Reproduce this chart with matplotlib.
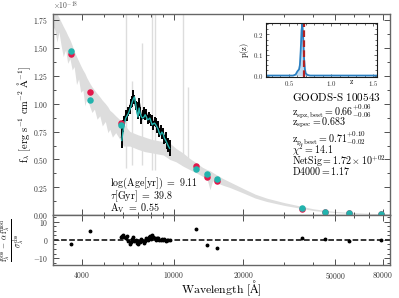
import numpy as np
import matplotlib
matplotlib.use('Agg')
import matplotlib.pyplot as plt
from matplotlib.ticker import FixedLocator, FuncFormatter, MultipleLocator, AutoMinorLocator, NullFormatter

plt.rcParams['mathtext.fontset'] = 'cm'
plt.rcParams['font.family'] = ['DejaVu Serif']

# photometry (flux in 1e-18 erg/s/cm2/A)
phot_wave = [3600, 4340, 5900, 12500, 13900, 15400, 35700, 45100, 57300, 78700]
phot_obs = [1.441, 1.101, 0.830, 0.444, 0.348, 0.310, 0.060, 0.031, 0.021, 0.015]
phot_mod = [1.470, 1.033, 0.810, 0.414, 0.372, 0.325, 0.063, 0.030, 0.021, 0.012]
phot_resid = [-2.5, 4.7, 1.5, 6.0, -2.9, -4.2, 1.0, 0.7, -0.4, 0.0]

# spectrum
spec_wave = [5950, 6030, 6110, 6190, 6270, 6350, 6430, 6510, 6590, 6670,
             6750, 6830, 6910, 6990, 7070, 7150, 7240, 7330, 7420, 7510,
             7600, 7690, 7780, 7870, 7960, 8050, 8150, 8250, 8350, 8450,
             8550, 8650, 8760, 8870, 8980, 9100, 9220, 9340, 9460, 9580]
spec_obs = [0.70, 0.80, 0.85, 0.90, 0.88, 0.93, 0.95, 1.00, 1.02, 1.07,
            1.04, 0.98, 0.97, 0.90, 1.01, 0.93, 0.86, 0.90, 0.93, 0.89,
            0.91, 0.86, 0.88, 0.87, 0.84, 0.86, 0.80, 0.84, 0.83, 0.78,
            0.80, 0.74, 0.77, 0.72, 0.74, 0.68, 0.70, 0.64, 0.63, 0.60]
spec_err = [0.10, 0.05, 0.04, 0.04, 0.04, 0.04, 0.04, 0.04, 0.05, 0.05,
            0.04, 0.04, 0.04, 0.04, 0.04, 0.04, 0.04, 0.04, 0.04, 0.04,
            0.04, 0.04, 0.04, 0.04, 0.04, 0.04, 0.04, 0.04, 0.04, 0.04,
            0.04, 0.04, 0.04, 0.04, 0.04, 0.04, 0.05, 0.05, 0.06, 0.07]
spec_mod = [0.67, 0.76, 0.82, 0.87, 0.89, 0.91, 0.94, 0.97, 1.01, 1.04,
            1.06, 1.00, 0.93, 0.88, 0.96, 0.91, 0.88, 0.87, 0.88, 0.90,
            0.88, 0.855, 0.86, 0.87, 0.84, 0.81, 0.82, 0.825, 0.81, 0.79,
            0.77, 0.735, 0.72, 0.745, 0.73, 0.69, 0.67, 0.645, 0.62, 0.60]
spec_resid = [2.0, 2.7, 1.5, 1.2, 2.0, -0.5, -2.5, -1.0, 0.5, 1.5,
              -0.8, -0.3, -1.5, -2.0, -0.5, -1.2, 0.3, -0.8, -1.8, -0.5,
              0.8, 0.2, 1.5, 2.2, 0.5, 2.6, 1.8, 1.2, 0.2, 1.0,
              0.8, 0.2, -0.3, 0.6, 0.0, 0.3, -0.4, 0.2, 0.0, 0.1]

# best-fit model spectrum band
sed_wave = [2950, 3050, 3120, 3180, 3250, 3320, 3400, 3470, 3550, 3630,
            3700, 3790, 3870, 3950, 4040, 4120, 4200, 4330, 4420, 4530,
            4650, 4780, 4900, 5050, 5180, 5280, 5420, 5600, 5840, 6050,
            6450, 7000, 7490, 8000, 8470, 9000, 9610, 10200, 10970, 11700,
            12540, 13300, 13900, 14330, 14700, 15400, 16300, 17450, 20000, 22500,
            25200, 30000, 35100, 40000, 45100, 50000, 57700, 70000, 88000]
sed_hi = [1.88, 1.84, 1.80, 1.77, 1.73, 1.69, 1.65, 1.61, 1.57, 1.52,
          1.47, 1.42, 1.38, 1.34, 1.30, 1.27, 1.23, 1.18, 1.15, 1.12,
          1.09, 1.06, 1.03, 1.00, 0.97, 0.94, 0.92, 0.89, 0.855, 0.82,
          0.75, 0.72, 0.70, 0.68, 0.67, 0.66, 0.646, 0.60, 0.557, 0.51,
          0.468, 0.43, 0.41, 0.40, 0.385, 0.36, 0.33, 0.30, 0.24, 0.19,
          0.155, 0.115, 0.085, 0.06, 0.045, 0.036, 0.027, 0.019, 0.013]
sed_lo = [1.72, 1.66, 1.55, 1.64, 1.52, 1.42, 1.48, 1.36, 1.40, 1.30,
          1.33, 1.17, 1.22, 1.10, 1.12, 0.98, 1.05, 0.97, 0.92, 0.95,
          0.86, 0.89, 0.80, 0.84, 0.74, 0.77, 0.70, 0.74, 0.68, 0.62,
          0.62, 0.59, 0.57, 0.56, 0.55, 0.54, 0.50, 0.48, 0.44, 0.41,
          0.379, 0.35, 0.33, 0.23, 0.31, 0.29, 0.27, 0.25, 0.20, 0.155,
          0.125, 0.09, 0.065, 0.045, 0.033, 0.026, 0.018, 0.012, 0.008]

# masked spectral pixels (large errors)
mask_wave = [6228, 6600, 7247, 8055, 8300, 10970, 11530]
mask_top = [1.80, 1.20, 1.54, 1.80, 1.80, 1.80, 1.15]
mask_bot = [0.42, 0.45, 0.45, 0.41, 0.41, 0.45, 0.45]

# p(z)
pz_z = [0.23, 0.55, 0.58, 0.60, 0.62, 0.63, 0.64, 0.65, 0.66, 0.67, 0.68, 0.69, 0.70, 0.72, 0.75, 1.55]
pz_p = [0.0, 0.0, 0.005, 0.02, 0.03, 0.05, 0.12, 0.22, 0.25, 0.18, 0.08, 0.03, 0.01, 0.003, 0.0, 0.0]

name = 'GOODS-S 100543'
z_spz, z_spz_up, z_spz_lo = 0.66, 0.06, 0.06
z_spec = 0.683
z_p, z_p_up, z_p_lo = 0.71, 0.10, 0.02
chi2 = 14.1
netsig = 1.72
d4000 = 1.17
log_age, tau, av = 9.11, 39.8, 0.55

RED = '#e3184b'
CYAN = '#22b3ad'
GRAY = '#dddddd'
SPINE = '0.4'

fig = plt.figure(figsize=(3.99, 2.98), dpi=100)
ax = fig.add_axes([0.133, 0.277, 0.844, 0.676])
axr = fig.add_axes([0.133, 0.111, 0.844, 0.166], sharex=ax)
axin = fig.add_axes([0.667, 0.743, 0.279, 0.181])

# main panel
ax.fill_between(sed_wave, sed_lo, sed_hi, color=GRAY, lw=0, zorder=1)
ax.vlines(mask_wave, mask_bot, mask_top, color=GRAY, lw=1.0, zorder=1)
ax.errorbar(spec_wave, spec_obs, yerr=spec_err, color='k', lw=1.3,
            elinewidth=1.4, capsize=0, zorder=3)
ax.plot(spec_wave, spec_mod, color=CYAN, lw=1.0, zorder=4)
ax.scatter(phot_wave, phot_obs, s=22, color=RED, zorder=5, lw=0)
ax.scatter(phot_wave, phot_mod, s=22, color=CYAN, zorder=6, lw=0)

ax.set_xscale('log')
ax.set_xlim(3000, 86000)
ax.set_ylim(0, 1.8)
ax.yaxis.set_major_locator(MultipleLocator(0.25))
ax.yaxis.set_minor_locator(AutoMinorLocator(2))
ax.yaxis.set_major_formatter(FuncFormatter(lambda v, p: r'$\mathrm{%.2f}$' % v))
ax.set_ylabel(r'$\mathrm{f_{\lambda}\ [erg\ s^{-1}\ cm^{-2}\ \AA^{-1}]}$', fontsize=7.5)
ax.text(0.0, 1.01, r'$\times10^{-18}$', transform=ax.transAxes, fontsize=5.5,
        ha='left', va='bottom', color='0.3')

# residual panel
axr.axhline(0, ls='--', color='k', lw=1.1, zorder=1)
axr.plot(spec_wave, spec_resid, 'o', color='k', ms=1.8, zorder=2)
axr.plot(phot_wave, phot_resid, 'o', color='k', ms=1.8, zorder=2)
axr.set_ylim(-13.7, 13.4)
axr.yaxis.set_major_locator(MultipleLocator(10))
axr.yaxis.set_minor_locator(MultipleLocator(2.5))
axr.yaxis.set_major_formatter(FuncFormatter(lambda v, p: r'$\mathrm{%d}$' % round(v)))
axr.set_ylabel(r'$\frac{\mathrm{f^{obs}_{\lambda}}\,-\,\alpha\,\mathrm{f^{mod}_{\lambda}}}{\sigma^{\mathrm{obs}}_{\lambda}}$',
               fontsize=8)
axr.set_xlabel(r'$\mathrm{Wavelength\ [\AA]}$', fontsize=8.5)

maj = [4000, 10000, 20000, 50000, 80000]
mnr = [3000, 5000, 6000, 7000, 8000, 9000, 30000, 40000, 60000, 70000]
for a in (ax, axr):
    a.xaxis.set_major_locator(FixedLocator(maj))
    a.xaxis.set_minor_locator(FixedLocator(mnr))
    a.xaxis.set_minor_formatter(NullFormatter())
    a.tick_params(which='both', direction='in', top=True, right=True,
                  labelsize=5.5, colors='0.2', width=0.6)
    a.tick_params(which='major', length=4)
    a.tick_params(which='minor', length=2.2)
    for s in a.spines.values():
        s.set_color(SPINE)
        s.set_linewidth(1.0)
axr.xaxis.set_major_formatter(FuncFormatter(lambda v, p: r'$\mathrm{%d}$' % v))
plt.setp(ax.get_xticklabels(), visible=False)
ax.yaxis.set_label_coords(-0.06, 0.5)
axr.yaxis.set_label_coords(-0.08, 0.5)
axr.xaxis.set_label_coords(0.5, -0.27)

# inset p(z)
axin.fill_between(pz_z, pz_p, color='#9ec6e6', alpha=0.6, lw=0)
axin.plot(pz_z, pz_p, color='#2a7fc1', lw=1.3)
axin.axvline(z_spec, color='#b22222', ls='--', lw=1.6, dashes=(3, 1.5))
axin.set_xlim(0.23, 1.55)
axin.set_ylim(-0.005, 0.257)
axin.xaxis.set_major_locator(MultipleLocator(0.5))
axin.xaxis.set_minor_locator(MultipleLocator(0.1))
axin.yaxis.set_major_locator(MultipleLocator(0.1))
axin.yaxis.set_minor_locator(MultipleLocator(0.025))
axin.xaxis.set_major_formatter(FuncFormatter(lambda v, p: r'$\mathrm{%.1f}$' % v))
axin.yaxis.set_major_formatter(FuncFormatter(lambda v, p: r'$\mathrm{%.1f}$' % v))
axin.tick_params(which='both', direction='in', top=True, right=True,
                 labelsize=5, width=0.5, colors='0.2', pad=2)
axin.tick_params(which='major', length=2.5)
axin.tick_params(which='minor', length=1.5)
axin.set_xlabel(r'$\mathrm{z}$', fontsize=5.5)
axin.xaxis.set_label_coords(0.77, -0.03)
axin.set_ylabel(r'$\mathrm{p(z)}$', fontsize=6, labelpad=1)
for s in axin.spines.values():
    s.set_color('0.1')
    s.set_linewidth(0.8)

# annotations
tx = 0.732
fig.text(tx, 0.676, r'$\mathrm{GOODS}$-$\mathrm{S\ 100543}$', fontsize=8, va='center')
fig.text(tx, 0.627, r'$\mathrm{z_{spz,best}}=%.2f^{+%.2f}_{-%.2f}$' % (z_spz, z_spz_up, z_spz_lo), fontsize=7.2, va='center')
fig.text(tx, 0.587, r'$\mathrm{z_{spec}}=%.3f$' % z_spec, fontsize=7.2, va='center')
fig.text(tx, 0.537, r'$\mathrm{z_{p,best}}=%.2f^{+%.2f}_{-%.2f}$' % (z_p, z_p_up, z_p_lo), fontsize=7.2, va='center')
fig.text(tx, 0.496, r'$\chi^2=%.1f$' % chi2, fontsize=7.2, va='center')
fig.text(tx, 0.460, r'$\mathrm{NetSig}=%.2f\times10^{+02}$' % netsig, fontsize=7.2, va='center')
fig.text(tx, 0.426, r'$\mathrm{D4000}=%.2f$' % d4000, fontsize=7.2, va='center')

lx = 0.276
fig.text(lx, 0.385, r'$\log(\mathrm{Age[yr]})\ =\ %.2f$' % log_age, fontsize=7.2, va='center')
fig.text(lx, 0.343, r'$\tau[\mathrm{Gyr}]\ =\ %.1f$' % tau, fontsize=7.2, va='center')
fig.text(lx, 0.301, r'$\mathrm{A_V}\ =\ %.2f$' % av, fontsize=7.2, va='center')

fig.savefig('out.png', dpi=100)
